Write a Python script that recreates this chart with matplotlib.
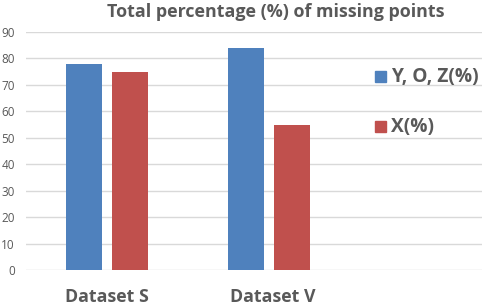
import numpy as np
import matplotlib.pyplot as plt

# data
categories = ['Dataset S', 'Dataset V']
yoz_pct = [78, 84]
x_pct = [75, 55]
yticks = [0, 10, 20, 30, 40, 50, 60, 70, 80, 90]

blue = '#4f81bd'
red = '#c0504d'
grey_txt = '#595959'

plt.rcParams['font.family'] = ['Open Sans', 'DejaVu Sans']

fig = plt.figure(figsize=(4.84, 3.06), dpi=100)
ax = fig.add_axes([0.0537, 0.1176, 0.9423, 0.7778])

pos = np.arange(len(categories))
w = 0.222
off = 0.142
ax.bar(pos - off, yoz_pct, width=w, color=blue, label='Y, O, Z(%)', zorder=3)
ax.bar(pos + off, x_pct, width=w, color=red, label='X(%)', zorder=3)

ax.set_xlim(-0.5, 2.315)
ax.set_ylim(0, 90)
ax.set_yticks(yticks)
ax.yaxis.grid(True, color='#d9d9d9', linewidth=1, zorder=0)
ax.tick_params(axis='y', length=0, pad=8, labelsize=8.5, labelcolor=grey_txt)
ax.tick_params(axis='x', length=0)
ax.set_xticks([])
for s in ax.spines.values():
    s.set_visible(False)

for p, c in zip(pos, categories):
    ax.text(p + 0.02 * p, -0.115, c, transform=ax.get_xaxis_transform(), ha='center', va='center',
            fontsize=12.8, fontweight='bold', color=grey_txt)

fig.text(0.570, 0.96, 'Total percentage (%) of missing points', ha='center', va='center',
         fontsize=12.9, fontweight='bold', color=grey_txt)

# legend
fig.patches.append(plt.Rectangle((375 / 484, 1 - 82 / 306), 11 / 484, 11 / 306,
                                 transform=fig.transFigure, color=blue))
fig.text(391 / 484, 1 - 77 / 306, 'Y, O, Z(%)', ha='left', va='center', fontsize=13.8,
         fontweight='bold', color=grey_txt)
fig.patches.append(plt.Rectangle((375 / 484, 1 - 132 / 306), 11 / 484, 11 / 306,
                                 transform=fig.transFigure, color=red))
fig.text(391 / 484, 1 - 127 / 306, 'X(%)', ha='left', va='center', fontsize=13.8,
         fontweight='bold', color=grey_txt)

fig.savefig('out.png', dpi=100)
